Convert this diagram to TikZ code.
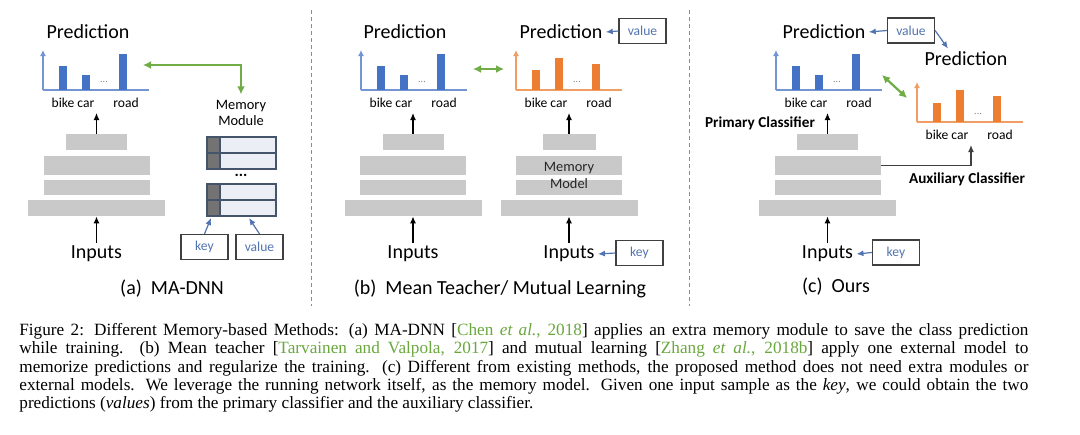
\documentclass[tikz,border=0pt]{standalone}
\usepackage{fontspec}
\setmainfont{Carlito}
\newfontfamily\capfont{Liberation Serif}
\usetikzlibrary{arrows.meta,positioning}

\definecolor{barblue}{RGB}{68,114,196}
\definecolor{barorange}{RGB}{237,125,49}
\definecolor{linkgreen}{RGB}{112,173,71}
\definecolor{citegreen}{RGB}{106,168,62}
\definecolor{blockgray}{RGB}{201,201,201}
\definecolor{cellfill}{RGB}{235,238,244}
\definecolor{celldark}{RGB}{115,115,115}
\definecolor{cellline}{RGB}{68,84,106}
\definecolor{keyblue}{RGB}{82,116,176}

\tikzset{
	block/.style={fill=blockgray,inner sep=0pt},
	title/.style={font=\fontsize{10}{12}\selectfont,inner sep=1.5pt},
	lbl/.style={font=\fontsize{6.8}{8}\selectfont,inner sep=1pt},
	tag/.style={draw=black!75,line width=.6pt,minimum width=23.5pt,minimum height=12.5pt,inner sep=0pt,text=keyblue,font=\fontsize{6.8}{8}\selectfont},
	classname/.style={font=\bfseries\fontsize{7.6}{9}\selectfont,inner sep=1pt},
	up/.style={line width=.6pt,-{Latex[length=3.5pt,width=3pt]}},
	feed/.style={keyblue,line width=.6pt,-{Latex[length=3.5pt,width=3pt]}},
	glink/.style={linkgreen,line width=1.1pt,{Latex[length=4pt,width=4pt]}-{Latex[length=4pt,width=4pt]}},
	sep/.style={black!45,line width=.5pt,dash pattern=on 2pt off 1.5pt},
}

\newcommand\greencite[1]{\textcolor{citegreen}{#1}}

% four gray layers: name, centre x, width of top layer
\newcommand\netstack[3]{%
	\node[block,minimum width=#3,minimum height=8pt] (#1top) at (#2,142) {};
	\node[block,minimum width=53pt,minimum height=9.5pt] (#1mid) at (#2,165.5) {};
	\node[block,minimum width=53pt,minimum height=7.5pt] (#1low) at (#2,187.5) {};
	\node[block,minimum width=68.5pt,minimum height=8pt] (#1base) at (#2,208) {};
}

% bar chart: name, axis x, base y, colour, three bar heights
\newcommand\barchart[7]{%
	\draw[#4!75,line width=.6pt,-{Latex[length=3pt,width=3pt]}] (#2,#3) -- (#2,#3-40);
	\draw[#4!75,line width=.6pt] (#2,#3) -- (#2+106,#3);
	\fill[#4] (#2+16,#3) rectangle (#2+24,#3-#5);
	\fill[#4] (#2+39,#3) rectangle (#2+47,#3-#6);
	\fill[#4] (#2+76,#3) rectangle (#2+84,#3-#7);
	\node[font=\fontsize{5}{5}\selectfont,text=black!50] (#1dots) at (#2+61,#3-8) {...};
	\node[lbl] (#1bike) at (#2+30,#3+13) {bike car};
	\node[lbl] (#1road) at (#2+83,#3+13) {road};
	\coordinate (#1in) at (#2+54,#3+23);
}

\begin{document}
\begin{tikzpicture}[x=0.5pt,y=-0.5pt]
	\useasboundingbox (0,0) rectangle (1080,434);
	\fill[white] (0,0) rectangle (1080,434);
	\draw[sep] (311,10) -- (311,306);
	\draw[sep] (689,10) -- (689,306);

	% (a) MA-DNN
	\node[title] (apred) at (88,32) {Prediction};
	\barchart{ac}{43}{90}{barblue}{24}{15}{36}
	\netstack{a}{96.5}{30.5pt}
	\draw[up] (atop.north) -- (atop.north |- acin);
	\node[title] (ainp) at (96.5,254) {Inputs};
	\draw[up] (ainp.north) -- (abase.south);
	\node[lbl,align=center,font=\fontsize{7.2}{7.6}\selectfont] (amem) at (241,113) {Memory\\Module};
	\foreach \y in {137,153,184,200}{
		\draw[cellline,line width=.6pt,fill=cellfill] (207,\y) rectangle (276,\y+16);
		\draw[cellline,line width=.6pt,fill=celldark] (207,\y) rectangle (220,\y+16);
	}
	\node[font=\bfseries\fontsize{8}{8}\selectfont] (amdots) at (241,175) {...};
	\coordinate (amkey) at (211,218);
	\coordinate (amval) at (249,218);
	\node[tag] (akey) at (204.5,247) {key};
	\node[tag] (aval) at (259.5,247) {value};
	\draw[feed] (akey.north) -- (amkey);
	\draw[feed] (aval.north) -- (amval);
	\coordinate (aback) at (143,65);
	\draw[glink] (aback) -| ([yshift=2pt]amem.north);
	\node[title] (acap) at (172,289) {(a)\ \ MA-DNN};

	% (b) Mean Teacher / Mutual Learning
	\node[title] (blpred) at (405,32) {Prediction};
	\barchart{blc}{361}{90}{barblue}{24}{15}{36}
	\netstack{bl}{413}{30.5pt}
	\draw[up] (bltop.north) -- (bltop.north |- blcin);
	\node[title] (blinp) at (413,254) {Inputs};
	\draw[up] (blinp.north) -- (blbase.south);
	\node[title] (brpred) at (561,32) {Prediction};
	\barchart{brc}{516}{90}{barorange}{20}{32}{26}
	\netstack{br}{569}{26.5pt}
	\node[align=center,inner sep=0pt,font=\fontsize{7.2}{8.5}\selectfont,text=black!85] (brmem) at (569,175.5) {Memory\\Model};
	\draw[up] (brtop.north) -- (brtop.north |- brcin);
	\node[title] (brinp) at (569,254) {Inputs};
	\draw[up] (brinp.north) -- (brbase.south);
	\node[tag] (bval) at (642.5,31) {value};
	\node[tag] (bkey) at (639.5,253) {key};
	\draw[feed] (bval.west) -- (brpred.east);
	\draw[feed] (bkey.west) -- (brinp.east);
	\coordinate (bglA) at (473,69);
	\coordinate (bglB) at (504,69);
	\draw[glink] (bglA) -- (bglB);
	\node[title] (bcap) at (500,289) {(b)\ \ Mean Teacher/ Mutual Learning};

	% (c) Ours
	\node[title] (cpred) at (824,32) {Prediction};
	\node[title] (cpredaux) at (966,59) {Prediction};
	\node[tag] (cval) at (911,30.5) {value};
	\draw[feed] (cval.west) -- (cpred.east);
	\draw[feed] (cval.east) -- (cpredaux.150);
	\barchart{clc}{776}{90}{barblue}{24}{15}{36}
	\barchart{coc}{917}{122}{barorange}{19}{32}{26}
	\coordinate (cglA) at (882,75);
	\coordinate (cglB) at (907,98);
	\draw[glink] (cglA) -- (cglB);
	\netstack{c}{827.5}{30.5pt}
	\draw[up] (ctop.north) -- (ctop.north |- clcin);
	\node[classname] (cprim) at (760,123) {Primary Classifier};
	\draw[black!75,line width=.6pt,-{Latex[length=3.5pt,width=3pt]}] (cmid.east) -| (cocin);
	\node[classname] (caux) at (967,179) {Auxiliary Classifier};
	\node[title] (cinp) at (827.5,254) {Inputs};
	\draw[up] (cinp.north) -- (cbase.south);
	\node[tag] (ckey) at (896,252.5) {key};
	\draw[feed] (ckey.west) -- (cinp.east);
	\node[title] (ccap) at (836,287) {(c)\ \ Ours};

	% caption
	\node[anchor=north west,inner sep=0pt,text width=504.5pt,align=justify,font=\capfont\fontsize{8.6}{9.15}\selectfont] (figcap) at (19,323)
		{Figure 2: Different Memory-based Methods: (a) MA-DNN [\greencite{Chen \textit{et al.}, 2018}] applies an extra memory module to save the class prediction\linebreak
		while training.\ \ (b) Mean teacher [\greencite{Tarvainen and Valpola, 2017}] and mutual learning [\greencite{Zhang \textit{et al.}, 2018b}] apply one external model to\linebreak
		memorize predictions and regularize the training. (c) Different from existing methods, the proposed method does not need extra modules or\linebreak
		external models. We leverage the running network itself, as the memory model. Given one input sample as the \textit{key}, we could obtain the two\linebreak
		predictions (\textit{values}) from the primary classifier and the auxiliary classifier.};
\end{tikzpicture}
\end{document}
